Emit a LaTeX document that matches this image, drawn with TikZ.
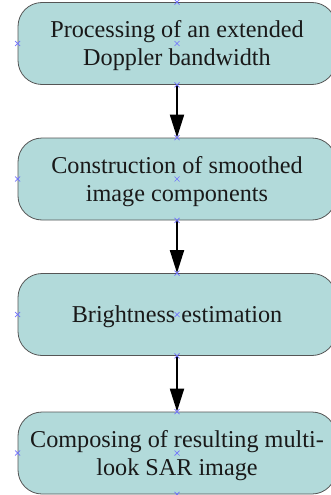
\documentclass[tikz,border=0pt]{standalone}
\usepackage{fontspec}
\setmainfont{Liberation Serif}
\usetikzlibrary{arrows.meta,calc}
\definecolor{boxfill}{HTML}{B2DADA}
\definecolor{boxline}{HTML}{555555}
\definecolor{mark}{HTML}{7070FF}
\tikzset{
  stepbox/.style={draw=boxline, line width=0.8pt, fill=boxfill, rounded corners=24pt,
    minimum width=318pt, minimum height=82pt, inner sep=0pt},
  steptext/.style={inner sep=0pt, align=center,
    font=\fontsize{24.2}{28}\selectfont, text=black!90},
  flow/.style={line width=2pt, -{Triangle[length=23pt,width=14pt]}},
  xmark/.style={draw=mark, line width=0.7pt}
}
\newcommand{\xm}[1]{\draw[xmark] ($(#1)+(-2.5pt,-2.5pt)$) -- ($(#1)+(2.5pt,2.5pt)$) ($(#1)+(-2.5pt,2.5pt)$) -- ($(#1)+(2.5pt,-2.5pt)$);}
\begin{document}
\begin{tikzpicture}[x=1pt,y=1pt]
\useasboundingbox (0,0) rectangle (331,-495);
\clip (0,0) rectangle (331,-495);
\node[stepbox] (b1) at (177,-43.5) {};
\node[stepbox] (b2) at (177,-179) {};
\node[stepbox] (b3) at (177,-314.5) {};
\node[stepbox] (b4) at (177,-453) {};
\node[steptext] (t1) at ($(b1.center)+(0,-2.5)$) {Processing of an extended\\Doppler bandwidth};
\node[steptext] (t2) at ($(b2.center)+(0,-2.5)$) {Construction of smoothed\\image components};
\node[steptext] (t3) at ($(b3.center)+(0,-2.5)$) {Brightness estimation};
\node[steptext] (t4) at ($(b4.center)+(0,-2.5)$) {Composing of resulting multi-\\look SAR image};
\draw[flow] (b1.south) -- (b2.north);
\draw[flow] (b2.south) -- (b3.north);
\draw[flow] (b3.south) -- (b4.north);
\foreach \n in {b1,b2,b3,b4}{
  \xm{\n.west}
  \xm{\n.north}
  \xm{\n.south}
  \xm{\n.center}
}
\end{tikzpicture}
\end{document}
